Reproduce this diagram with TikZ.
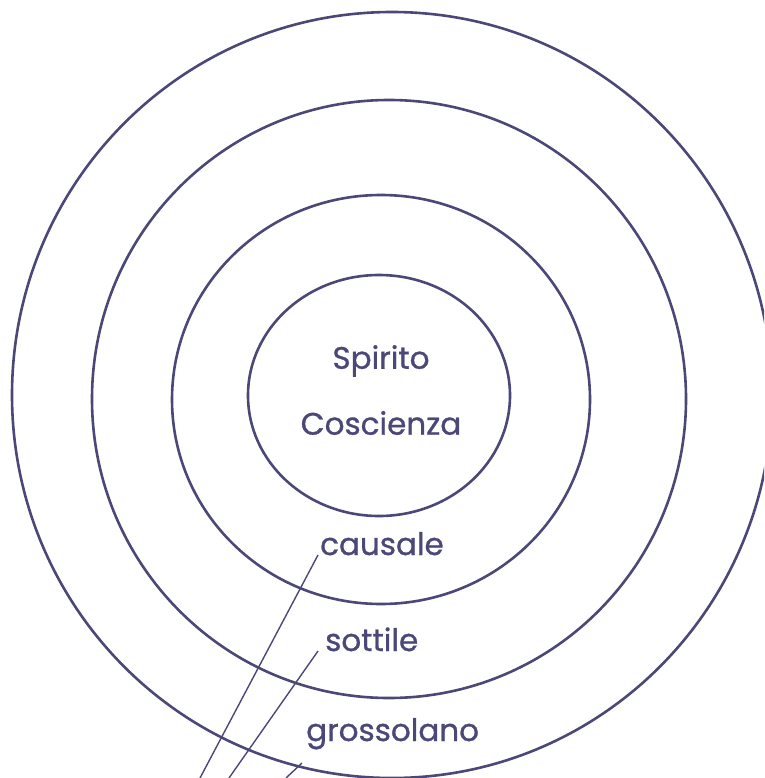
\documentclass[tikz,border=0pt]{standalone}
\usepackage{fontspec}
\newfontfamily\ringfont{Poppins}[FakeBold=0.9]
\usetikzlibrary{shapes.geometric}
\definecolor{ringline}{HTML}{4B4878}

\begin{document}
\begin{tikzpicture}[x=1pt,y=-1pt,
  ring/.style={ellipse,draw=ringline,line width=2.6pt,inner sep=0pt},
  label/.style={text=ringline,inner sep=0pt,font=\ringfont\fontsize{31}{36}\selectfont},
  leader/.style={draw=ringline,line width=1.4pt}
]
\useasboundingbox (0,0) rectangle (764,778);
\clip (0,0) rectangle (764,778);
% concentric bodies
\node[ring,minimum width=760,minimum height=766] (gross) at (392,395) {};
\node[ring,minimum width=594,minimum height=598] (subtle) at (389,399) {};
\node[ring,minimum width=418,minimum height=409] (causal) at (381,399.5) {};
\node[ring,minimum width=262,minimum height=241] (spirit) at (379,395.5) {};
% texts
\node[label] (spiritlabel) at (381,361) {Spirito};
\node[label] (conslabel) at (381,423) {Coscienza};
\node[label,anchor=base west] (causallabel) at (320,555) {causale};
\node[label,anchor=base west] (subtlelabel) at (325,651) {sottile};
\node[label,anchor=base west] (grosslabel) at (306,741) {grossolano};
% leader lines
\coordinate (causalfoot) at (200,778);
\coordinate (subtlefoot) at (229,778);
\coordinate (grossfoot) at (286,778);
\coordinate (grosstip) at (302,763);
\draw[leader] (causalfoot) -- ([xshift=-2pt]causallabel.base west);
\draw[leader] (subtlefoot) -- ([xshift=-7pt]subtlelabel.base west);
\draw[leader] (grossfoot) -- (grosstip);
\end{tikzpicture}
\end{document}
